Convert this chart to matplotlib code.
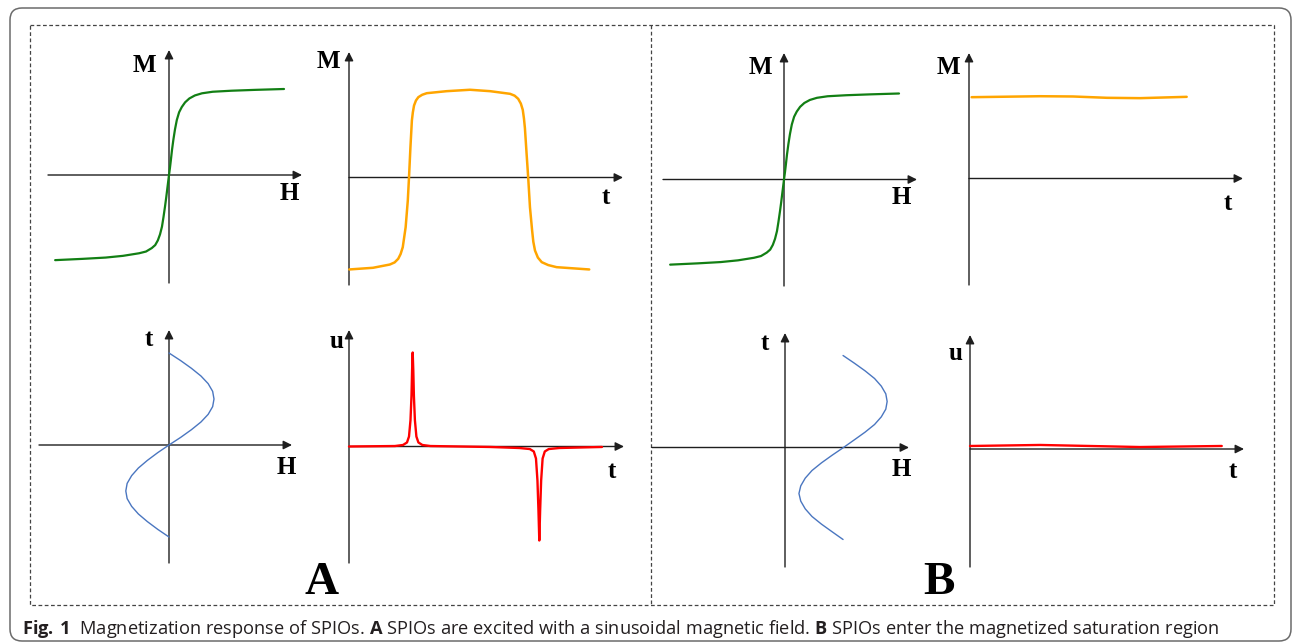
import matplotlib
matplotlib.use("Agg")
import matplotlib.pyplot as plt
from matplotlib.patches import FancyBboxPatch

# ---- data (panel-local units) ----
# magnetization curve M(H), same curve in A and B
green_H = [-0.99, -0.75, -0.55, -0.4, -0.26, -0.2, -0.15, -0.12, -0.097, -0.078,
           -0.061, -0.048, -0.035, -0.024, -0.013, 0.0, 0.008, 0.016, 0.026,
           0.038, 0.052, 0.068, 0.088, 0.111, 0.14, 0.177, 0.225, 0.287, 0.38,
           0.543, 0.75, 1.0]
green_M = [-0.99, -0.975, -0.96, -0.94, -0.91, -0.89, -0.85, -0.815, -0.76, -0.69,
           -0.60, -0.49, -0.37, -0.26, -0.14, 0.0, 0.08, 0.17, 0.29,
           0.41, 0.53, 0.64, 0.73, 0.79, 0.845, 0.89, 0.925, 0.95, 0.968,
           0.98, 0.99, 1.0]

# M(t) in A: square-like response
orange_t = [0.001, 0.1, 0.17, 0.19, 0.205, 0.215, 0.224, 0.236, 0.245, 0.25,
            0.256, 0.262, 0.266, 0.271, 0.279, 0.289, 0.305, 0.324, 0.407,
            0.504, 0.588, 0.671, 0.69, 0.705, 0.716, 0.724, 0.729, 0.733,
            0.74, 0.747, 0.754, 0.763, 0.768, 0.775, 0.787, 0.803, 0.83,
            0.865, 1.001]
orange_M = [-1.045, -1.026, -0.989, -0.965, -0.924, -0.87, -0.792, -0.565,
            -0.261, 0.0, 0.345, 0.648, 0.74, 0.818, 0.875, 0.913, 0.94, 0.958,
            0.981, 0.997, 0.981, 0.951, 0.93, 0.894, 0.84, 0.769, 0.67, 0.56,
            0.269, -0.015, -0.338, -0.602, -0.73, -0.83, -0.91, -0.962, -0.995,
            -1.019, -1.045]

# M(t) in B: saturated
orangeB_t = [0.011, 0.296, 0.433, 0.575, 0.713, 0.907]
orangeB_M = [0.924, 0.935, 0.932, 0.917, 0.913, 0.928]

# excitation field H(t), t on the vertical axis
blue_t = [1.0, 0.917, 0.833, 0.75, 0.667, 0.583, 0.5, 0.417, 0.333, 0.25,
          0.167, 0.083, 0.0, -0.083, -0.167, -0.25, -0.333, -0.417, -0.5,
          -0.583, -0.667, -0.75, -0.833, -0.917, -1.0]
blue_H = [0.0, 0.26, 0.50, 0.71, 0.87, 0.97, 1.0, 0.97, 0.87, 0.71, 0.50, 0.26,
          0.0, -0.25, -0.48, -0.68, -0.83, -0.93, -0.96, -0.93, -0.83, -0.68,
          -0.48, -0.25, 0.0]
blueB_H = [1.29, 1.54, 1.78, 1.99, 2.14, 2.24, 2.27, 2.24, 2.14, 1.99, 1.78,
           1.54, 1.30, 1.05, 0.81, 0.60, 0.45, 0.35, 0.31, 0.35, 0.45, 0.60,
           0.81, 1.05, 1.29]

# induced signal u(t)
red_t = [0.0, 0.1914, 0.225, 0.2416, 0.25, 0.2562, 0.2604, 0.2629, 0.2654,
         0.2679, 0.2704, 0.2746, 0.2808, 0.2892, 0.3058, 0.3394,
         0.5875, 0.7099, 0.7533, 0.77, 0.7791, 0.7852, 0.7894, 0.7929, 0.7964,
         0.8006, 0.8067, 0.8158, 0.8325, 0.8759, 1.0542]
red_u = [0.0, 0.005, 0.016, 0.043, 0.106, 0.28, 0.54, 0.81, 1.0,
         0.81, 0.54, 0.28, 0.106, 0.043, 0.016, 0.005,
         -0.005, -0.016, -0.027, -0.053, -0.128, -0.362, -0.681, -1.0, -0.681,
         -0.362, -0.128, -0.053, -0.027, -0.016, -0.005]
redB_t = [0.0, 0.292, 0.5, 0.708, 1.049]
redB_u = [0.032, 0.043, 0.032, 0.021, 0.032]

caption = (r"$\mathbf{Fig.\,1}$  Magnetization response of SPIOs. $\mathbf{A}$ SPIOs "
           r"are excited with a sinusoidal magnetic field. $\mathbf{B}$ SPIOs enter "
           r"the magnetized saturation region")

# ---- layout (pixels, y down) ----
W, H = 1293, 643
# name: origin, px per unit, x-axis extent, y-axis extent, x label, y label
panels = {
    "A1": dict(o=(169, 175), s=(115, 86), xa=(48, 302), ya=(283, 50),
               xl=("H", 289, 193), yl=("M", 144, 65)),
    "A2": dict(o=(349, 177.5), s=(240, 88), xa=(349, 623), ya=(285, 52),
               xl=("t", 606, 197), yl=("M", 328, 62)),
    "A3": dict(o=(169, 445), s=(45, 92), xa=(39, 292), ya=(563, 330),
               xl=("H", 286, 467), yl=("t", 149, 340)),
    "A4": dict(o=(349, 446.5), s=(240, 94), xa=(349, 624), ya=(563, 330),
               xl=("t", 612, 472), yl=("u", 337, 342)),
    "B1": dict(o=(784, 179.5), s=(115, 86), xa=(663, 917), ya=(286, 53),
               xl=("H", 901, 197), yl=("M", 760, 68)),
    "B2": dict(o=(969, 178.5), s=(240, 88), xa=(969, 1243), ya=(285, 53),
               xl=("t", 1228, 203), yl=("M", 948, 68)),
    "B3": dict(o=(785, 447.5), s=(45, 92), xa=(652, 909), ya=(567, 333),
               xl=("H", 901, 470), yl=("t", 765, 343)),
    "B4": dict(o=(970, 449), s=(240, 94), xa=(970, 1244), ya=(567, 335),
               xl=("t", 1233, 472), yl=("u", 956, 354)),
}

fig = plt.figure(figsize=(W / 100, H / 100), dpi=100)
fig.patch.set_facecolor("white")

bg = fig.add_axes([0, 0, 1, 1])
bg.set_xlim(0, W)
bg.set_ylim(H, 0)
bg.axis("off")

# outer rounded frame
bg.add_patch(FancyBboxPatch((10, 8), 1281, 633,
                            boxstyle="round,pad=0,rounding_size=12",
                            fc="none", ec="#6b6b6b", lw=1.1))
# dashed boxes
dash = dict(color="#444444", lw=0.9, ls=(0, (3, 2)))
bg.plot([30, 1274, 1274, 30, 30], [25, 25, 605, 605, 25], **dash)
bg.plot([651, 651], [25, 605], **dash)

lab_font = dict(family="Liberation Serif", weight="bold", fontsize=18,
                ha="center", va="center", color="black")
arrow = dict(arrowstyle="-|>", color="#1e1e1e", lw=1.0, mutation_scale=13,
             shrinkA=0, shrinkB=0)

axes = {}
for name, p in panels.items():
    ox, oy = p["o"]
    sx, sy = p["s"]
    bg.annotate("", xy=(p["xa"][1], oy), xytext=(p["xa"][0], oy), arrowprops=arrow)
    bg.annotate("", xy=(ox, p["ya"][1]), xytext=(ox, p["ya"][0]), arrowprops=arrow)
    for txt, x, y in (p["xl"], p["yl"]):
        bg.text(x, y, txt, **lab_font)
    ax = fig.add_axes([0, 0, 1, 1])
    ax.set_xlim(-ox / sx, (W - ox) / sx)
    ax.set_ylim((oy - H) / sy, oy / sy)
    ax.axis("off")
    axes[name] = ax

line = dict(solid_capstyle="round", solid_joinstyle="round")
green = "#127f14"
orange = "#ffa500"
blue = "#4a76c0"
red = "#ff0000"

axes["A1"].plot(green_H, green_M, color=green, lw=1.6, **line)
axes["B1"].plot(green_H, green_M, color=green, lw=1.6, **line)
axes["A2"].plot(orange_t, orange_M, color=orange, lw=1.8, **line)
axes["B2"].plot(orangeB_t, orangeB_M, color=orange, lw=1.8, **line)
axes["A3"].plot(blue_H, blue_t, color=blue, lw=1.0, **line)
axes["B3"].plot(blueB_H, blue_t, color=blue, lw=1.0, **line)
axes["A4"].plot(red_t, red_u, color=red, lw=1.7, **line)
axes["B4"].plot(redB_t, redB_u, color=red, lw=1.7, **line)

# big panel letters
big = dict(family="Liberation Serif", weight="bold", fontsize=34,
           ha="center", va="center", color="black")
bg.text(322, 583, "A", **big)
bg.text(939, 583, "B", **big)

# caption, scaled to the reference width
plt.rcParams["mathtext.fontset"] = "custom"
plt.rcParams["mathtext.rm"] = "Open Sans"
plt.rcParams["mathtext.bf"] = "Open Sans:bold"
cap = bg.text(22, 634, caption, family="Open Sans", fontsize=12,
              ha="left", va="baseline", color="#231f20")
fig.canvas.draw()
wpx = cap.get_window_extent(fig.canvas.get_renderer()).width
cap.set_fontsize(12 * 1199 / wpx)

fig.savefig("out.png", dpi=100, facecolor="white")
